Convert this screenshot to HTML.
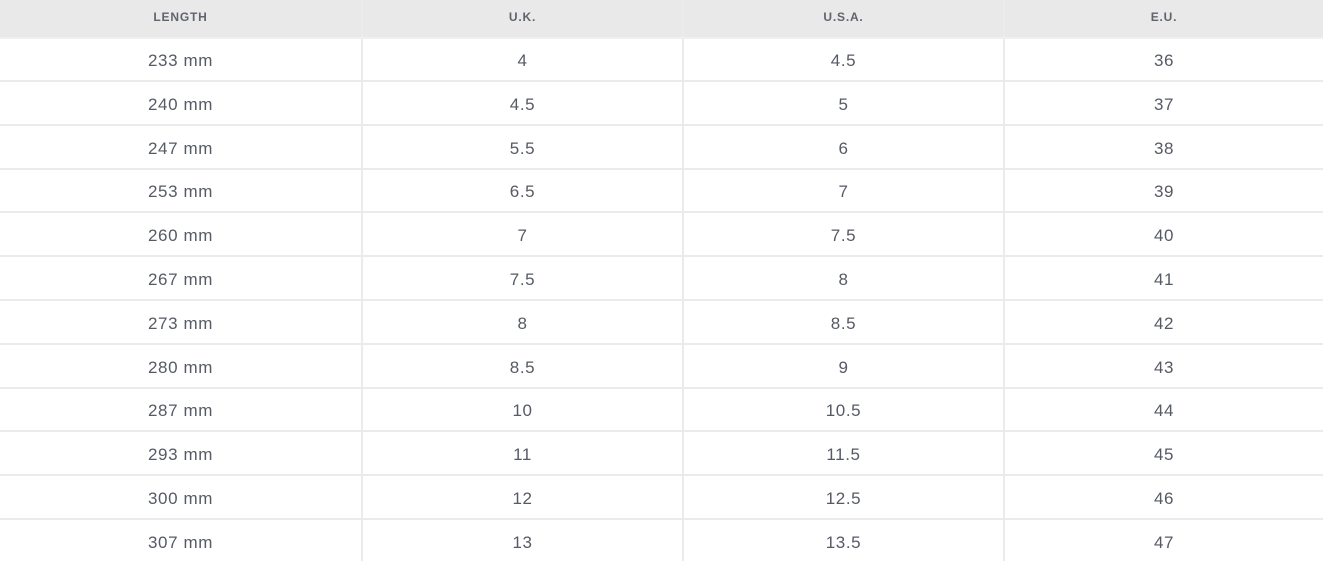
<!DOCTYPE html>
<html><head><style>
html,body{margin:0;padding:0;width:1323px;height:561px;overflow:hidden;background:#fff;font-family:"Liberation Sans",sans-serif;}
.c{position:absolute;text-align:center;color:#555a64;font-size:17px;line-height:20px;letter-spacing:0.6px;}
.h{font-size:12px;font-weight:bold;color:#60646f;letter-spacing:0.8px;}
.vl{position:absolute;top:0;width:2px;height:561px;background:#ebebeb;}
.hl{position:absolute;left:0;width:1323px;height:2px;background:#ebebeb;}
</style></head><body>
<div style="position:absolute;left:0;top:0;width:1323px;height:37px;background:#e9e9e9"></div>
<div class="vl" style="left:361px"></div>
<div class="vl" style="left:682px"></div>
<div class="vl" style="left:1003px"></div>
<div class="hl" style="top:37px;background:#f0f0f0"></div>
<div id="t"></div>
<script>
var cols=[[0,361],[363,682],[684,1003],[1005,1323]];
var data=[["233 mm","4","4.5","36"],["240 mm","4.5","5","37"],["247 mm","5.5","6","38"],["253 mm","6.5","7","39"],["260 mm","7","7.5","40"],["267 mm","7.5","8","41"],["273 mm","8","8.5","42"],["280 mm","8.5","9","43"],["287 mm","10","10.5","44"],["293 mm","11","11.5","45"],["300 mm","12","12.5","46"],["307 mm","13","13.5","47"]];
var h="";
var hd=["LENGTH","U.K.","U.S.A.","E.U."];
for(var j=0;j<4;j++)h+='<div class="c h" style="left:'+cols[j][0]+'px;width:'+(cols[j][1]-cols[j][0])+'px;top:7px">'+hd[j]+'</div>';
for(var i=0;i<12;i++){var cy=61+i*43.8;
 if(i<11)h+='<div class="hl" style="top:'+Math.round(80+i*43.8)+'px"></div>';
 for(var j=0;j<4;j++)h+='<div class="c" style="left:'+cols[j][0]+'px;width:'+(cols[j][1]-cols[j][0])+'px;top:'+(cy-10)+'px">'+data[i][j]+'</div>';}
document.getElementById("t").innerHTML=h;
</script>
</body></html>
